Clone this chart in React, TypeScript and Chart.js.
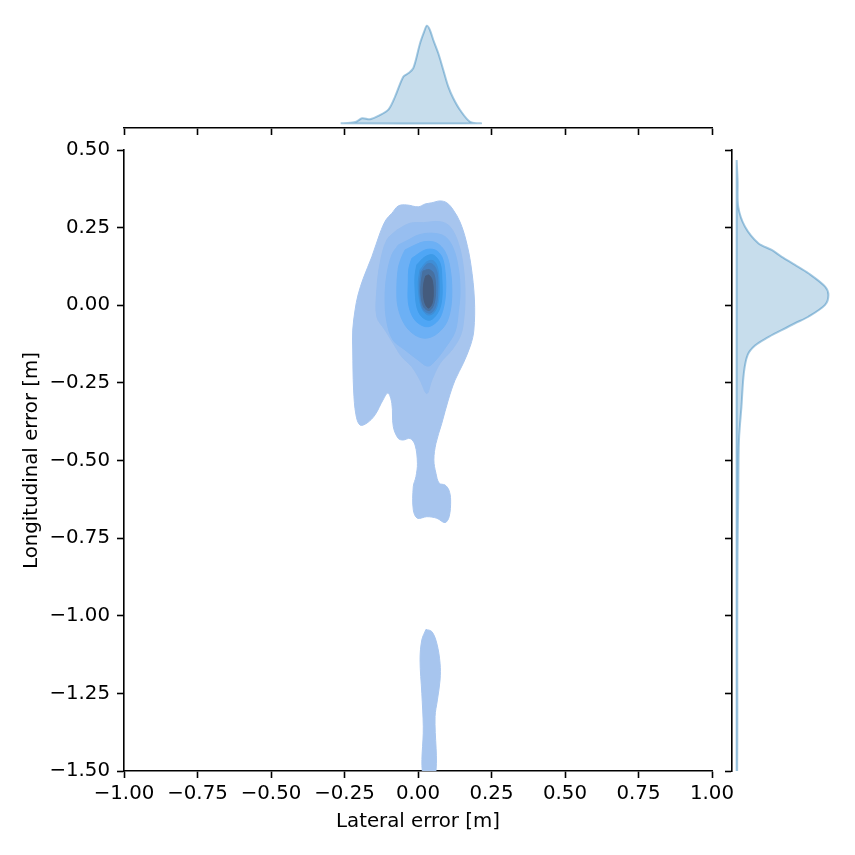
import React, { useEffect, useRef } from "react";
import { Chart, registerables } from "chart.js";

Chart.register(...registerables);

// ---------- tick values / labels ----------
const xTickValues = [-1, -0.75, -0.5, -0.25, 0, 0.25, 0.5, 0.75, 1];
const yTickValues = [-1.5, -1.25, -1, -0.75, -0.5, -0.25, 0, 0.25, 0.5];
const xAxisLabel = "Lateral error [m]";
const yAxisLabel = "Longitudinal error [m]";

// ---------- KDE contour polygons (lateral, longitudinal) in metres, outer -> inner ----------
const level1Main: [number, number][] = [
  [-0.089, 0.296], [-0.067, 0.32], [-0.038, 0.323], [0.001, 0.317], [0.024, 0.326], [0.047, 0.33],
  [0.075, 0.336], [0.098, 0.33], [0.12, 0.307], [0.143, 0.268], [0.163, 0.21], [0.18, 0.13],
  [0.192, 0.017], [0.19, -0.08], [0.179, -0.128], [0.154, -0.187], [0.126, -0.241], [0.103, -0.305],
  [0.081, -0.38], [0.061, -0.445], [0.054, -0.498], [0.061, -0.541], [0.072, -0.573], [0.092, -0.579],
  [0.105, -0.595], [0.111, -0.627], [0.106, -0.681], [0.092, -0.7], [0.064, -0.686], [0.03, -0.681],
  [-0.002, -0.686], [-0.016, -0.659], [-0.016, -0.584], [-0.007, -0.552], [-0.002, -0.509],
  [-0.01, -0.45], [-0.027, -0.429], [-0.05, -0.434], [-0.067, -0.429], [-0.084, -0.391],
  [-0.089, -0.316], [-0.102, -0.283], [-0.119, -0.305], [-0.146, -0.353], [-0.173, -0.379],
  [-0.197, -0.386], [-0.211, -0.353], [-0.219, -0.273], [-0.222, -0.144], [-0.222, -0.08],
  [-0.214, -0.015], [-0.204, 0.033], [-0.186, 0.087], [-0.157, 0.156], [-0.129, 0.233], [-0.109, 0.275],
];
const level1Lower: [number, number][] = [
  [0.027, -1.044], [0.047, -1.051], [0.064, -1.089], [0.075, -1.153], [0.075, -1.207], [0.066, -1.271],
  [0.058, -1.325], [0.058, -1.52], [0.018, -1.52], [0.018, -1.357], [0.013, -1.25], [0.007, -1.142],
  [0.013, -1.078],
];
const level2: [number, number][] = [
  [-0.072, 0.242], [-0.027, 0.264], [0.018, 0.266], [0.075, 0.269], [0.109, 0.253], [0.137, 0.2],
  [0.154, 0.124], [0.16, 0.028], [0.154, -0.058], [0.143, -0.101], [0.115, -0.144], [0.075, -0.187],
  [0.047, -0.241], [0.03, -0.284], [0.007, -0.241], [-0.021, -0.198], [-0.055, -0.166], [-0.084, -0.123],
  [-0.112, -0.08], [-0.14, -0.037], [-0.14, 0.049], [-0.129, 0.135], [-0.106, 0.21],
];
const level3: [number, number][] = [
  [-0.067, 0.194], [-0.033, 0.21], [0.001, 0.226], [0.047, 0.232], [0.092, 0.221], [0.12, 0.183],
  [0.137, 0.119], [0.143, 0.044], [0.137, -0.021], [0.126, -0.085], [0.092, -0.138], [0.061, -0.176],
  [0.034, -0.196], [0.0, -0.176], [-0.044, -0.144], [-0.085, -0.112], [-0.106, -0.053], [-0.112, 0.022],
  [-0.106, 0.097], [-0.089, 0.162],
];
const level4: [number, number][] = [
  [-0.044, 0.178], [-0.01, 0.194], [0.024, 0.205], [0.064, 0.2], [0.092, 0.172], [0.109, 0.119],
  [0.115, 0.044], [0.109, -0.021], [0.092, -0.064], [0.058, -0.096], [0.024, -0.106], [-0.01, -0.096],
  [-0.044, -0.064], [-0.067, -0.01], [-0.072, 0.044], [-0.067, 0.119], [-0.055, 0.156],
];
const level5: [number, number][] = [
  [-0.021, 0.151], [0.024, 0.178], [0.058, 0.178], [0.081, 0.156], [0.092, 0.108], [0.094, 0.044],
  [0.086, -0.01], [0.069, -0.048], [0.035, -0.069], [0.001, -0.058], [-0.021, -0.031], [-0.033, 0.011],
  [-0.033, 0.076], [-0.031, 0.119],
];
const level6: [number, number][] = [
  [-0.004, 0.13], [0.024, 0.156], [0.052, 0.162], [0.075, 0.135], [0.081, 0.087], [0.081, 0.022],
  [0.069, -0.021], [0.041, -0.048], [0.013, -0.037], [-0.004, -0.005], [-0.01, 0.055], [-0.01, 0.097],
];
const level7: [number, number][] = [
  [0.007, 0.114], [0.03, 0.14], [0.052, 0.143], [0.067, 0.119], [0.072, 0.065], [0.069, 0.011],
  [0.055, -0.023], [0.033, -0.031], [0.013, -0.01], [0.003, 0.033], [0.001, 0.076],
];
const level8: [number, number][] = [
  [0.01, 0.107], [0.031, 0.133], [0.051, 0.131], [0.065, 0.104], [0.067, 0.044], [0.061, -0.002],
  [0.043, -0.025], [0.019, -0.015], [0.008, 0.023], [0.006, 0.068],
];
const level9: [number, number][] = [
  [0.017, 0.11], [0.037, 0.115], [0.054, 0.101], [0.06, 0.049], [0.054, 0.004], [0.039, -0.017],
  [0.02, -0.006], [0.01, 0.033], [0.011, 0.075],
];
const level10: [number, number][] = [
  [0.026, 0.094], [0.037, 0.097], [0.048, 0.081], [0.052, 0.043], [0.048, 0.007], [0.036, -0.009],
  [0.024, 0.006], [0.018, 0.039], [0.02, 0.072],
];
const contourLevels = [level1Main, level2, level3, level4, level5, level6, level7, level8, level9, level10];
const contourColors = [
  "#a7c5ee", "#97bef0", "#86b8f2", "#6cb0f5", "#4fa6f5",
  "#3d9ae8", "#3f8ed6", "#4480c0", "#4770a0", "#445b7d",
];

// ---------- marginal densities (normalised) ----------
const lateralGrid = [
  -0.263, -0.23, -0.21, -0.19, -0.163, -0.135, -0.1, -0.078, -0.05, -0.033, -0.016, 0.007,
  0.021, 0.03, 0.04, 0.052, 0.069, 0.086, 0.103, 0.12, 0.143, 0.177, 0.213,
];
const lateralDensity = [
  0, 0.006, 0.016, 0.051, 0.041, 0.075, 0.143, 0.273, 0.477, 0.512, 0.564, 0.82,
  0.939, 1.0, 0.96, 0.853, 0.717, 0.546, 0.375, 0.256, 0.136, 0.016, 0,
];
const longitudinalGrid = [
  0.468, 0.4, 0.317, 0.253, 0.2, 0.178, 0.156, 0.13, 0.103, 0.06, 0.033, 0.001, -0.037, -0.058,
  -0.08, -0.105, -0.13, -0.16, -0.219, -0.327, -0.434, -0.617, -0.8, -1.1, -1.3, -1.5,
];
const longitudinalDensity = [
  0, 0.01, 0.017, 0.091, 0.236, 0.382, 0.491, 0.636, 0.782, 0.964, 1.0, 0.964, 0.782, 0.636,
  0.491, 0.33, 0.2, 0.12, 0.078, 0.052, 0.025, 0.017, 0.009, 0.006, 0.007, 0.005,
];

const FONT = { family: "'DejaVu Sans', sans-serif", size: 19.8 };
const fmt = (v: number) => v.toFixed(2).replace("-", "\u2212");

function polyDataset(pts: { x: number; y: number }[], fillColor: string, lineColor: string, lineWidth: number, order: number, tension: number) {
  const data = pts.slice();
  data.push({ ...pts[0] });
  return {
    data,
    showLine: true,
    fill: "shape",
    backgroundColor: fillColor,
    borderColor: lineColor,
    borderWidth: lineWidth,
    pointRadius: 0,
    pointHoverRadius: 0,
    tension,
    order,
  };
}

function axisBase(vals: number[], showLabels: boolean, pad: number) {
  return {
    type: "linear" as const,
    min: vals[0],
    max: vals[vals.length - 1],
    afterBuildTicks: (s: any) => {
      s.ticks = vals.map((v) => ({ value: v }));
    },
    ticks: {
      display: showLabels,
      font: FONT,
      color: "#000",
      autoSkip: false,
      maxRotation: 0,
      minRotation: 0,
      padding: pad,
      callback: (v: any) => fmt(Number(v)),
    },
    grid: {
      drawOnChartArea: false,
      drawTicks: true,
      tickLength: 7,
      tickWidth: 1.6,
      tickColor: "#000",
    },
    border: { display: true, color: "#000", width: 1.6 },
  };
}

const commonOpts = {
  animation: false as const,
  responsive: false,
  maintainAspectRatio: false,
  events: [] as any[],
  plugins: { legend: { display: false }, tooltip: { enabled: false } },
};

const MARGIN_FILL = "rgba(31,119,180,0.25)";
const MARGIN_LINE = "rgba(31,119,180,0.4)";

export default function App() {
  const mainRef = useRef<HTMLCanvasElement>(null);
  const topRef = useRef<HTMLCanvasElement>(null);
  const rightRef = useRef<HTMLCanvasElement>(null);

  useEffect(() => {
    const charts: Chart[] = [];

    // main joint KDE
    const mainSets: any[] = [];
    mainSets.push(
      polyDataset(level1Lower.map(([x, y]) => ({ x, y })), contourColors[0], contourColors[0], 1, 100, 0.35)
    );
    contourLevels.forEach((lvl, i) => {
      mainSets.push(
        polyDataset(lvl.map(([x, y]) => ({ x, y })), contourColors[i], contourColors[i], 1, 50 - i, 0.35)
      );
    });
    charts.push(
      new Chart(mainRef.current!, {
        type: "scatter",
        data: { datasets: mainSets },
        options: {
          ...commonOpts,
          layout: { padding: { left: 0, top: 150, right: 143, bottom: 0 } },
          scales: {
            x: {
              ...axisBase(xTickValues, true, 4),
              position: "bottom",
              afterFit: (s: any) => {
                s.height = 84;
              },
              title: { display: true, text: xAxisLabel, font: FONT, color: "#000", padding: { top: 0, bottom: 21 } },
            },
            y: {
              ...axisBase(yTickValues, true, 7),
              position: "left",
              afterFit: (s: any) => {
                s.width = 124;
              },
              title: { display: true, text: yAxisLabel, font: FONT, color: "#000", padding: { top: 19.6, bottom: 0 } },
            },
          },
        } as any,
      })
    );

    // top marginal (lateral)
    const topPts = lateralGrid.map((g, i) => ({ x: g, y: lateralDensity[i] }));
    charts.push(
      new Chart(topRef.current!, {
        type: "scatter",
        data: {
          datasets: [polyDataset(topPts, MARGIN_FILL, MARGIN_LINE, 2, 1, 0.3)],
        },
        options: {
          ...commonOpts,
          layout: { padding: { left: 124, top: 20, right: 143, bottom: 0 } },
          scales: {
            x: {
              ...axisBase(xTickValues, false, 0),
              position: "bottom",
              afterFit: (s: any) => {
                s.height = 7;
              },
            },
            y: { type: "linear", display: false, min: -0.048, max: 1.058 },
          },
        } as any,
      })
    );

    // right marginal (longitudinal)
    const rightPts = longitudinalGrid.map((g, i) => ({ x: longitudinalDensity[i], y: g }));
    rightPts.push({ x: 0, y: longitudinalGrid[longitudinalGrid.length - 1] });
    charts.push(
      new Chart(rightRef.current!, {
        type: "scatter",
        data: {
          datasets: [polyDataset(rightPts, MARGIN_FILL, MARGIN_LINE, 2, 1, 0.3)],
        },
        options: {
          ...commonOpts,
          layout: { padding: { left: 0, top: 150, right: 0, bottom: 84 } },
          scales: {
            y: {
              ...axisBase(yTickValues, false, 0),
              position: "left",
              afterFit: (s: any) => {
                s.width = 7;
              },
            },
            x: { type: "linear", display: false, min: -0.051, max: 1.29 },
          },
        } as any,
      })
    );

    return () => charts.forEach((c) => c.destroy());
  }, []);

  return (
    <div style={{ position: "absolute", left: 0, top: 0, width: 855, height: 855, background: "#fff" }}>
      <canvas ref={mainRef} width={855} height={855} style={{ position: "absolute", left: 0, top: 0, width: 855, height: 855 }} />
      <canvas ref={topRef} width={855} height={135} style={{ position: "absolute", left: 0, top: 0, width: 855, height: 135 }} />
      <canvas ref={rightRef} width={130} height={855} style={{ position: "absolute", left: 725, top: 0, width: 130, height: 855 }} />
    </div>
  );
}
